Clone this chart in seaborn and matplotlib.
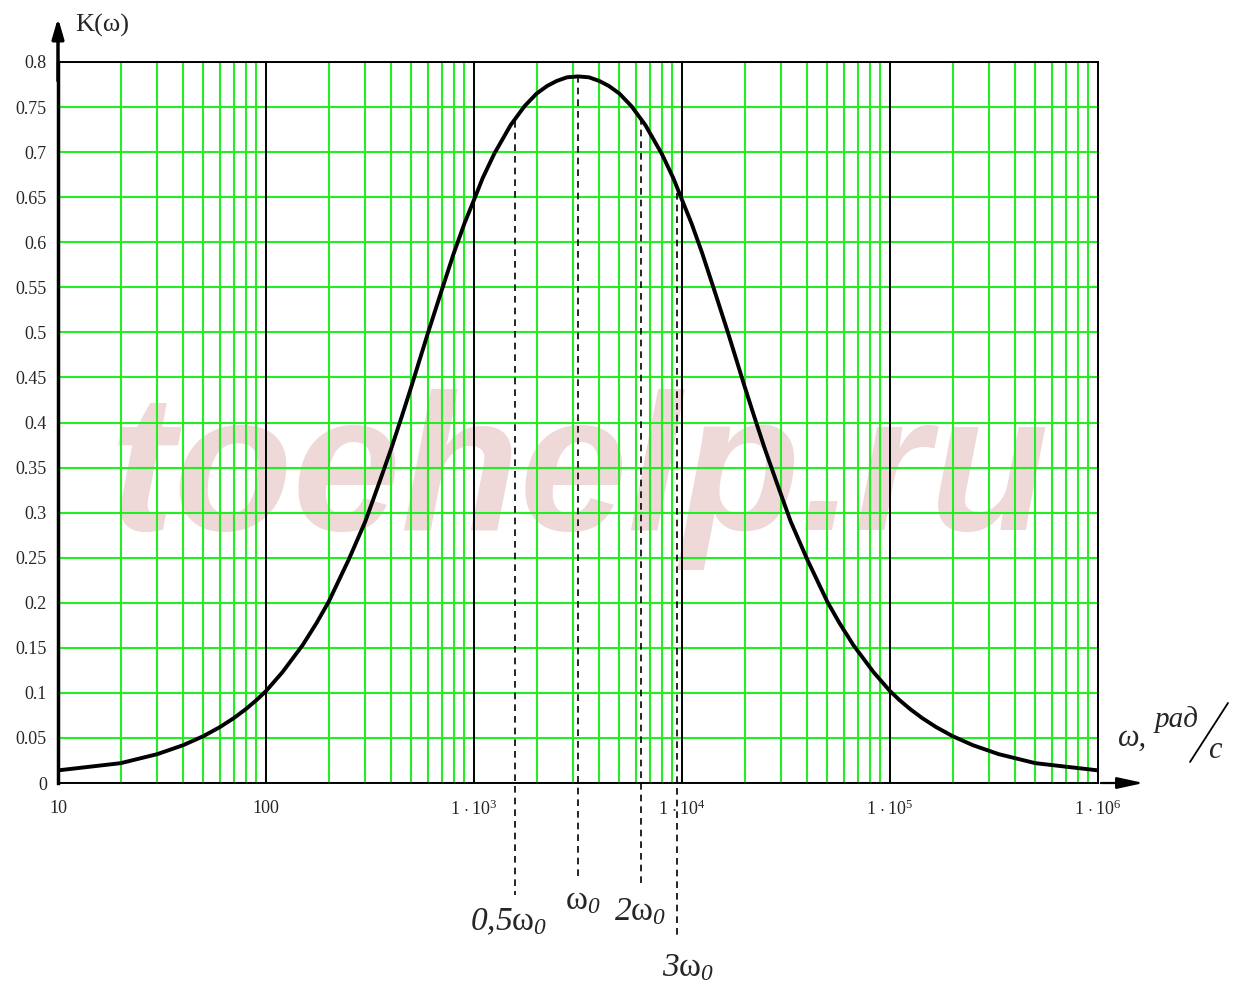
import numpy as np
import pandas as pd
import seaborn as sns
import matplotlib.pyplot as plt
from matplotlib.lines import Line2D

# ===============================
# Datos
# ===============================
omega = [10, 20, 30, 40, 50, 60, 70, 80, 90, 100, 120, 150, 175, 200, 250,
         300, 350, 400, 450, 500, 600, 700, 800, 900, 1000, 1100, 1250, 1500,
         1750, 2000, 2250, 2500, 2800, 3162, 3571, 4000, 4444, 5000, 5714,
         6667, 8000, 9091, 10000, 11110, 12500, 14290, 16670, 20000, 22220,
         25000, 28570, 33330, 40000, 50000, 57140, 66670, 83330, 100000,
         111100, 125000, 142900, 166700, 200000, 250000, 333300, 500000,
         1000000]
K = [0.014, 0.022, 0.032, 0.042, 0.052, 0.062, 0.072, 0.082, 0.092, 0.102,
     0.123, 0.153, 0.1775, 0.201, 0.248, 0.290, 0.333, 0.371, 0.407, 0.440,
     0.499, 0.547, 0.588, 0.621, 0.647, 0.671, 0.698, 0.730, 0.751, 0.765,
     0.7735, 0.779, 0.783, 0.784, 0.783, 0.779, 0.7735, 0.765, 0.751, 0.730,
     0.698, 0.671, 0.647, 0.621, 0.588, 0.547, 0.499, 0.440, 0.407, 0.371,
     0.333, 0.290, 0.248, 0.201, 0.1775, 0.153, 0.123, 0.102, 0.092, 0.082,
     0.072, 0.062, 0.052, 0.042, 0.032, 0.022, 0.014]

w0 = 3162
marcas_w = [0.5 * w0, w0, 2 * w0, 3 * w0]
marcas_k = [0.735, 0.784, 0.738, 0.655]
marcas_txt = [r"$\mathsf{0{,}5}\mathrm{\omega}_{\mathsf{0}}$",
              r"$\mathrm{\omega}_{\mathsf{0}}$",
              r"$\mathsf{2}\mathrm{\omega}_{\mathsf{0}}$",
              r"$\mathsf{3}\mathrm{\omega}_{\mathsf{0}}$"]
marcas_fondo = [-0.124, -0.105, -0.117, -0.171]
# posición de las etiquetas (px de la figura)
marcas_px = [(509, 922), (583, 901), (640, 912), (688, 968)]

yticks = [0, 0.05, 0.1, 0.15, 0.2, 0.25, 0.3, 0.35, 0.4, 0.45, 0.5, 0.55,
          0.6, 0.65, 0.7, 0.75, 0.8]
ytick_labels = ["0", "0.05", "0.1", "0.15", "0.2", "0.25", "0.3", "0.35",
                "0.4", "0.45", "0.5", "0.55", "0.6", "0.65", "0.7", "0.75", "0.8"]
xticks = [10, 100, 1e3, 1e4, 1e5, 1e6]
xtick_labels = ["10", "100", r"$1\,\cdot 10^{3}$", r"$1\,\cdot 10^{4}$",
                r"$1\,\cdot 10^{5}$", r"$1\,\cdot 10^{6}$"]

df = pd.DataFrame({"omega": omega, "K": K})

# ===============================
# Estilo
# ===============================
sns.set_style("white")
plt.rcParams["font.family"] = ["Liberation Serif", "DejaVu Serif"]
plt.rcParams["mathtext.fontset"] = "custom"
plt.rcParams["mathtext.rm"] = "Liberation Serif"
plt.rcParams["mathtext.it"] = "Liberation Serif:italic"
plt.rcParams["mathtext.sf"] = "Liberation Serif:italic"

verde = "#22ee22"
W, H = 1243, 989

fig = plt.figure(figsize=(12.43, 9.89), dpi=100)
ax = fig.add_axes([58 / W, 1 - 783 / H, 1040 / W, 721 / H])
ax.set_xscale("log")
ax.set_xlim(10, 1e6)
ax.set_ylim(0, 0.8)

# Marca de agua
ax.text(0.502, 0.351, "toehelp.ru", transform=ax.transAxes, ha="center",
        va="baseline", fontsize=140, fontweight="bold", fontstyle="italic",
        family="Liberation Sans", color="#efd8d8", zorder=0)

# Rejilla
for yv in yticks:
    ax.axhline(yv, color=verde, lw=1.5, zorder=1)
for dec in [10, 100, 1000, 10000, 100000]:
    for m in range(2, 10):
        ax.axvline(dec * m, color=verde, lw=1.5, zorder=1)
for dec in [100, 1000, 10000, 100000]:
    ax.axvline(dec, color="black", lw=1.4, zorder=2)

# Curva
sns.lineplot(data=df, x="omega", y="K", color="black", lw=2.8, ax=ax, zorder=5)

# Líneas discontinuas
for wv, kv, fondo, txt, (px, py) in zip(marcas_w, marcas_k, marcas_fondo,
                                        marcas_txt, marcas_px):
    ax.plot([wv, wv], [kv, fondo], color="black", lw=1.2, ls=(0, (4, 3)),
            clip_on=False, zorder=4)
    fig.text(px / W, 1 - py / H, txt, ha="center", va="center", fontsize=24)

# Ejes
for s in ["top", "right", "bottom"]:
    ax.spines[s].set_color("black")
    ax.spines[s].set_linewidth(1.4)
ax.spines["left"].set_linewidth(2.5)
ax.spines["left"].set_color("black")
ax.set_yticks(yticks)
ax.set_yticklabels(ytick_labels, fontsize=13)
ax.set_xticks(xticks)
ax.set_xticklabels(xtick_labels, fontsize=13)
ax.xaxis.set_minor_locator(plt.NullLocator())
ax.tick_params(axis="both", length=0)
ax.tick_params(axis="y", pad=8)
ax.tick_params(axis="x", pad=12)
ax.set_xlabel("")
ax.set_ylabel("")

# Flechas de los ejes
ax.annotate("", xy=(0, 1.065), xytext=(0, 0.97), xycoords="axes fraction",
            arrowprops=dict(arrowstyle="-|>,head_length=1.2,head_width=0.35",
                            color="black", lw=2.5), annotation_clip=False)
ax.annotate("", xy=(1.0465, 0), xytext=(1.0, 0), xycoords="axes fraction",
            arrowprops=dict(arrowstyle="-|>,head_length=1.6,head_width=0.35",
                            color="black", lw=1.6), annotation_clip=False)

fig.text(75 / W, 1 - 25 / H, "K(ω)", fontsize=19, ha="left", va="center")
fig.text(1118 / W, 1 - 738 / H, "ω,", fontsize=22, style="italic",
         ha="left", va="center")
fig.text(1155 / W, 1 - 720 / H, "рад", fontsize=21, style="italic",
         ha="left", va="center")
fig.text(1208 / W, 1 - 750 / H, "с", fontsize=22, style="italic",
         ha="left", va="center")
fig.add_artist(Line2D([1190 / W, 1228 / W], [1 - 762 / H, 1 - 703 / H],
                      color="black", lw=1.3, transform=fig.transFigure))

fig.savefig("out.png", dpi=100)
